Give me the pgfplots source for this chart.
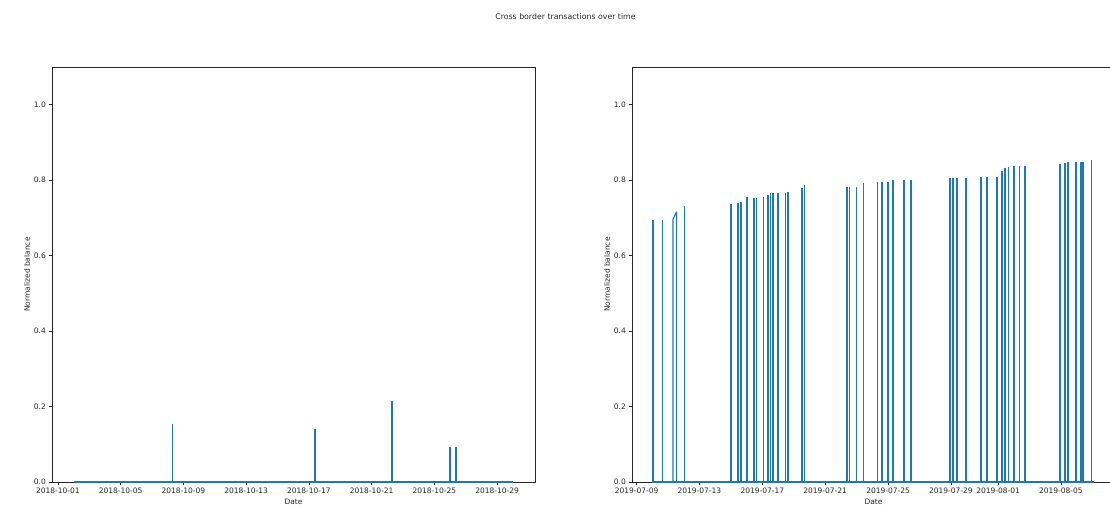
\documentclass[border=0pt]{standalone}
\usepackage{pgfplots}
\pgfplotsset{compat=1.18}
\usepackage{fontspec}
\setmainfont{DejaVu Sans}
\definecolor{mplblue}{HTML}{1F77B4}

\begin{document}
\begin{tikzpicture}[x=1pt,y=1pt]
\useasboundingbox (0,0) rectangle (1110,506);
\clip (0,0) rectangle (1110,506);
\pgfplotsset{
  panel/.style={
    scale only axis, width=483pt, height=415pt, anchor=south west,
    ymin=0, ymax=1.1, ytick={0,0.2,0.4,0.6,0.8,1.0},
    axis line style={black!85, line width=0.6pt},
    tick align=outside, tick pos=left, major tick length=2.6pt,
    tick style={black!85, line width=0.6pt},
    ticklabel style={font=\fontsize{7.5}{9}\selectfont, text=black!85},
    yticklabel style={/pgf/number format/.cd, fixed, fixed zerofill, precision=1},
    /pgf/number format/assume math mode=true,
    xlabel={Date}, ylabel={Normalized balance},
    label style={font=\fontsize{7.5}{9}\selectfont, text=black!85},
    xlabel style={yshift=2pt},
    ylabel style={yshift=-3pt},
    clip=true,
  },
  spikes/.style={ycomb, mplblue, line width=1.3pt, mark=none},
  flat/.style={mplblue, line width=1.1pt, mark=none, line join=round},
}

\node[font=\fontsize{7.8}{9}\selectfont, text=black!85] at (565.5,489) {Cross border transactions over time};

% October 2018 (x in days since 2018-10-01)
\begin{axis}[panel, at={(52pt,24pt)},
  xmin=-0.38, xmax=30.42,
  xtick={0,4,8,12,16,20,24,28},
  xticklabels={2018-10-01,2018-10-05,2018-10-09,2018-10-13,2018-10-17,2018-10-21,2018-10-25,2018-10-29}]
\addplot[flat] coordinates {(1.0,0) (29.0,0)};
\addplot[spikes] table {
t v
7.31 0.155
16.40 0.140
21.30 0.214
25.00 0.092
25.35 0.092
25.43 0.092
};
\end{axis}

% July-August 2019 (x in days since 2019-07-09)
\begin{axis}[panel, at={(632pt,24pt)},
  xmin=-0.29, xmax=30.44,
  xtick={0,4,8,12,16,20,23,27},
  xticklabels={2019-07-09,2019-07-13,2019-07-17,2019-07-21,2019-07-25,2019-07-29,2019-08-01,2019-08-05}]
\addplot[flat] coordinates {(1.0,0) (29.1,0)};
\addplot[flat] coordinates {(2.32,0) (2.32,0.697) (2.54,0.716) (2.54,0)};
\addplot[spikes] table {
t v
1.05 0.694
1.65 0.694
3.06 0.731
6.01 0.737
6.46 0.740
6.65 0.742
7.03 0.755
7.47 0.753
7.63 0.753
8.08 0.755
8.37 0.760
8.52 0.766
8.68 0.766
9.00 0.766
9.48 0.766
9.64 0.769
10.53 0.779
10.69 0.787
13.39 0.782
13.55 0.782
13.99 0.782
14.44 0.792
15.33 0.795
15.62 0.795
16.00 0.795
16.32 0.800
17.02 0.800
17.46 0.800
19.94 0.805
20.13 0.805
20.39 0.805
20.96 0.805
21.91 0.808
22.30 0.808
22.93 0.808
23.25 0.825
23.44 0.832
23.66 0.835
24.01 0.838
24.37 0.838
24.71 0.838
26.94 0.843
27.26 0.845
27.45 0.848
27.96 0.848
28.28 0.848
28.40 0.848
28.95 0.853
};
\end{axis}
\end{tikzpicture}
\end{document}
